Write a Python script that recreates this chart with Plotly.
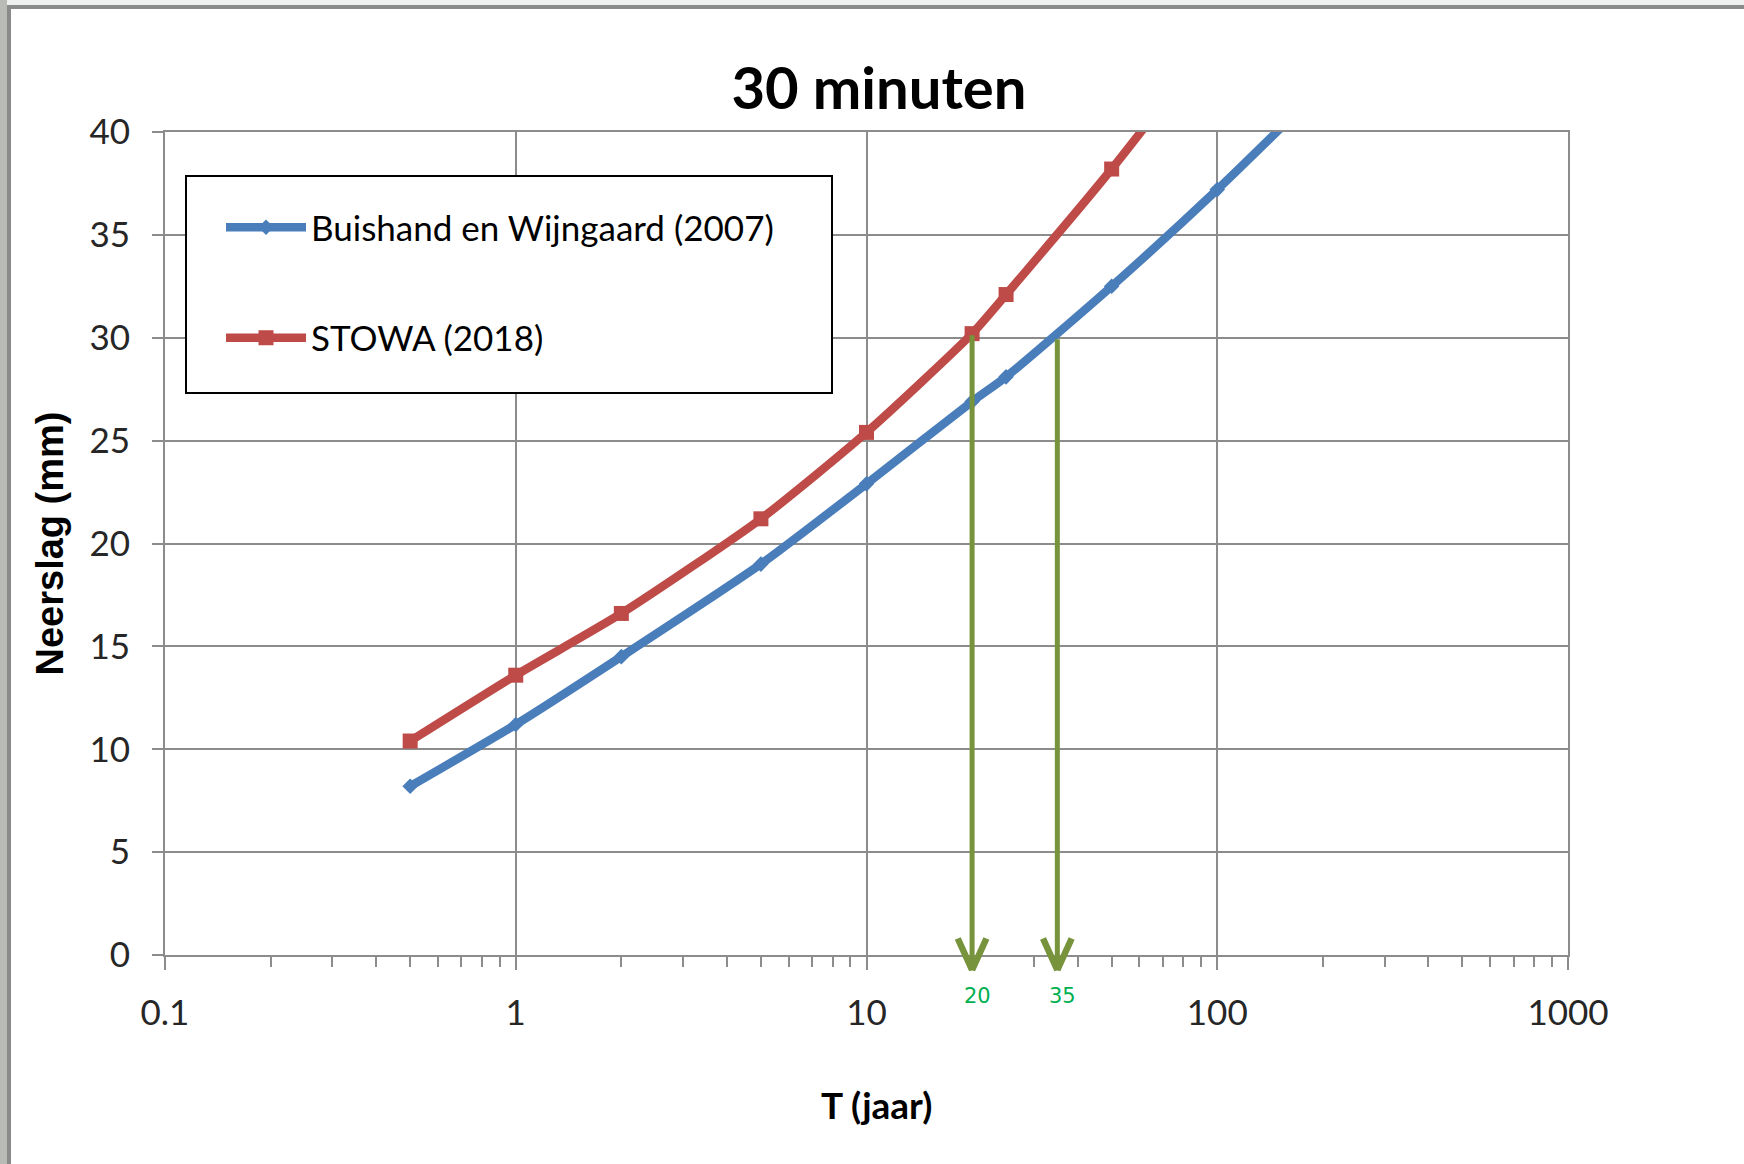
import math
import plotly.graph_objects as go

# ---------------- data ----------------
T_buishand = [0.5, 1, 2, 5, 10, 20, 25, 50, 100, 200]
P_buishand = [8.2, 11.2, 14.5, 19.0, 22.9, 26.9, 28.1, 32.5, 37.2, 42.2]

T_stowa = [0.5, 1, 2, 5, 10, 20, 25, 50, 100]
P_stowa = [10.4, 13.6, 16.6, 21.2, 25.4, 30.2, 32.1, 38.2, 44.8]

arrow_T = [20, 35]
arrow_top = [30.2, 30.0]
arrow_labels = ["20", "35"]

x_tickvals = [0.1, 1, 10, 100, 1000]
x_ticktext = ["0.1", "1", "10", "100", "1000"]

name_buishand = "Buishand en Wijngaard (2007)"
name_stowa = "STOWA (2018)"

# ---------------- layout geometry ----------------
W, H = 1744, 1164
ML, MR, MT, MB = 165, 176, 132, 209
PW, PH = W - ML - MR, H - MT - MB


def px(xp):
    return (xp - ML) / PW


def py(yp):
    return (H - MB - yp) / PH


BLUE = "#4A7EBB"
RED = "#BE4B48"
GREEN = "#77933C"
GRID = "#8C8C8C"
TXT = "#262626"

fig = go.Figure()
fig.add_trace(go.Scatter(
    x=T_buishand, y=P_buishand, name=name_buishand, legendgroup="a",
    mode="lines+markers",
    line=dict(color=BLUE, width=8.5, shape="spline", smoothing=0.6),
    marker=dict(symbol="diamond", size=12, color=BLUE),
))
fig.add_trace(go.Scatter(
    x=T_stowa, y=P_stowa, name=name_stowa, legendgroup="b",
    mode="lines+markers",
    line=dict(color=RED, width=8.5, shape="spline", smoothing=0.6),
    marker=dict(symbol="square", size=15, color=RED),
))

TIP_Y = -0.75   # arrow tips sit slightly below the x axis (data units)
TIP_SHIFT = -15  # same offset in pixels, for the head strokes
annotations = []
for t, top, lab in zip(arrow_T, arrow_top, arrow_labels):
    lx = math.log10(t)
    # shaft
    annotations.append(dict(
        x=lx, y=TIP_Y, xref="x", yref="y",
        ax=lx, ay=top, axref="x", ayref="y",
        text="", showarrow=True, arrowhead=0,
        arrowwidth=5, arrowcolor=GREEN, standoff=0, startstandoff=0,
    ))
    # open V head: two short strokes from the tip
    for side in (-1, 1):
        annotations.append(dict(
            x=lx, y=0, xref="x", yref="y", yshift=TIP_SHIFT,
            ax=side * 15, ay=-33,
            text="", font=dict(size=1), showarrow=True, arrowhead=0,
            arrowwidth=6.5, arrowcolor=GREEN, standoff=0, startstandoff=0,
        ))
    annotations.append(dict(
        x=lx, y=py(996), xref="x", yref="paper",
        yanchor="middle", text=lab, showarrow=False, xshift=5,
        font=dict(family="DejaVu Sans", size=21, color="#00B050"),
    ))

# x-axis title placed as text
annotations.append(dict(
    x=px(876), y=py(1104), xref="paper", yref="paper",
    xanchor="center", yanchor="middle", showarrow=False,
    text="<b>T (jaar)</b>", font=dict(family="Lato", size=37, color="black"),
))

shapes = [
    # light strip above the frame
    dict(type="rect", xref="paper", yref="paper", x0=px(0), x1=px(W), y0=py(0), y1=py(5),
         fillcolor="#EEF0EF", line=dict(width=0), layer="below"),
    # photo strip on the left
    dict(type="rect", xref="paper", yref="paper", x0=px(0), x1=px(7), y0=py(0), y1=py(H),
         fillcolor="#B9BCB6", line=dict(width=0), layer="below"),
    # frame lines
    dict(type="line", xref="paper", yref="paper", x0=px(7), x1=px(W), y0=py(7), y1=py(7),
         line=dict(color="#8A8A8A", width=4)),
    dict(type="line", xref="paper", yref="paper", x0=px(9), x1=px(9), y0=py(5), y1=py(H),
         line=dict(color="#8A8A8A", width=4)),
    # legend box
    dict(type="rect", xref="paper", yref="paper", x0=px(186), x1=px(832), y0=py(176), y1=py(393),
         fillcolor="white", line=dict(color="black", width=2), layer="above"),
]

fig.update_layout(
    width=W, height=H,
    margin=dict(l=ML, r=MR, t=MT, b=MB, pad=0),
    paper_bgcolor="white", plot_bgcolor="white",
    font=dict(family="Lato", color=TXT),
    title=dict(text="<b>30 minuten</b>", x=px(879), xref="paper", xanchor="center",
               y=1 - 89 / H, yref="container", yanchor="middle",
               font=dict(family="Lato", size=58, color="black")),
    showlegend=True,
    legend=dict(x=px(221), y=py(198), xanchor="left", yanchor="top",
                bgcolor="rgba(0,0,0,0)", borderwidth=0, itemwidth=80,
                font=dict(family="Lato", size=35, color="black"),
                tracegroupgap=62, traceorder="grouped"),
    xaxis=dict(
        type="log", range=[-1, 3],
        tickmode="array", tickvals=x_tickvals, ticktext=x_ticktext,
        ticks="outside", ticklen=13, tickwidth=2, tickcolor=GRID,
        ticklabelstandoff=13,
        tickfont=dict(family="Lato", size=35, color=TXT),
        showgrid=True, gridcolor=GRID, gridwidth=2,
        showline=True, linecolor=GRID, linewidth=2, mirror=True,
        zeroline=False,
        minor=dict(ticks="outside", ticklen=10, tickwidth=2, tickcolor=GRID,
                   dtick="D1", showgrid=False),
    ),
    yaxis=dict(
        range=[0, 40], dtick=5, tick0=0,
        ticks="outside", ticklen=11, tickwidth=2, tickcolor=GRID,
        ticklabelstandoff=15,
        tickfont=dict(family="Lato", size=35, color=TXT),
        showgrid=True, gridcolor=GRID, gridwidth=2,
        showline=True, linecolor=GRID, linewidth=2, mirror=True,
        zeroline=False,
        title=dict(text="<b>Neerslag (mm)</b>", standoff=14,
                   font=dict(family="Liberation Sans", size=38, color="black")),
    ),
    annotations=annotations,
    shapes=shapes,
)

fig.write_html("out.html", config={"displayModeBar": False},
               post_script="document.body.style.margin='0px';")
